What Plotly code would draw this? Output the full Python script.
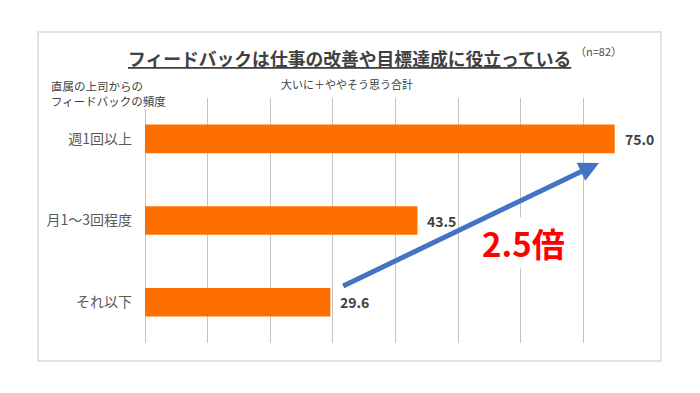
import plotly.graph_objects as go

categories = ["週1回以上", "月1～3回程度", "それ以下"]
values = [75.0, 43.5, 29.6]
x_ticks = [0, 10, 20, 30, 40, 50, 60, 70, 80]

FONT = "Noto Sans CJK JP"
OFF = 8  # page body margin offset
W, H = 700 - OFF, 393 - OFF
ML, MR, MT, MB = 145 - OFF, 54, 98 - OFF, 50
PW, PH = W - ML - MR, H - MT - MB


def px(x):
    return (x - OFF - ML) / PW


def py(y):
    return (H - MB - (y - OFF)) / PH


fig = go.Figure()
fig.add_trace(go.Bar(
    y=categories, x=values, orientation="h",
    marker=dict(color="#FF6F00", line=dict(width=0)),
    hoverinfo="skip",
))

annotations = []
for c, v in zip(categories, values):
    annotations.append(dict(
        x=v, y=c, xref="x", yref="y", text=f"<b>{v:.1f}</b>", showarrow=False,
        xanchor="left", yanchor="middle", xshift=8,
        font=dict(family=FONT, size=14, color="#404040"),
    ))

# title
annotations.append(dict(
    x=px(349), y=py(58), xref="paper", yref="paper",
    text="<b><u>フィードバックは仕事の改善や目標達成に役立っている</u></b>",
    showarrow=False, xanchor="center", yanchor="middle",
    font=dict(family=FONT, size=17.8, color="#404040"),
))
annotations.append(dict(
    x=px(573), y=py(51), xref="paper", yref="paper", text="（n=82）",
    showarrow=False, xanchor="left", yanchor="middle",
    font=dict(family=FONT, size=11, color="#505050"),
))
annotations.append(dict(
    x=px(347), y=py(84), xref="paper", yref="paper", text="大いに＋ややそう思う合計",
    showarrow=False, xanchor="center", yanchor="middle",
    font=dict(family=FONT, size=11, color="#404040"),
))
annotations.append(dict(
    x=px(50), y=py(93), xref="paper", yref="paper",
    text="直属の上司からの<br>フィードバックの頻度",
    showarrow=False, xanchor="left", yanchor="middle", align="left",
    bgcolor="white", borderpad=0,
    font=dict(family=FONT, size=11.5, color="#404040"),
))
annotations.append(dict(
    x=px(523), y=py(243), xref="paper", yref="paper", text="<b>2.5倍</b>",
    showarrow=False, xanchor="center", yanchor="middle", bgcolor="white",
    font=dict(family=FONT, size=33, color="#FF0000"),
))
# arrow (drawn above the text box)
annotations.append(dict(
    x=px(599), y=py(163), xref="paper", yref="paper", text="",
    showarrow=True, arrowhead=2, arrowsize=0.8, arrowwidth=5,
    arrowcolor="#4472C4", ax=341.7 - 599, ay=286.7 - 163, standoff=0,
))

fig.update_layout(
    width=W, height=H,
    margin=dict(l=ML, r=MR, t=MT, b=MB),
    paper_bgcolor="white", plot_bgcolor="white",
    showlegend=False,
    bargap=0.65,
    font=dict(family=FONT),
    xaxis=dict(
        range=[0, 80], tickvals=x_ticks, showticklabels=False,
        showgrid=True, gridcolor="#C4C4C4", gridwidth=1.3,
        zeroline=True, zerolinecolor="#C4C4C4", zerolinewidth=1.3,
        showline=False, fixedrange=True,
    ),
    yaxis=dict(
        categoryorder="array", categoryarray=categories, autorange="reversed",
        showgrid=False, zeroline=False, showline=False, ticks="",
        ticklabelstandoff=12,
        tickfont=dict(family=FONT, size=14, color="#595959"),
    ),
    annotations=annotations,
    shapes=[dict(
        type="rect", xref="paper", yref="paper",
        x0=px(38), x1=px(661), y0=py(361), y1=py(32),
        line=dict(color="#D9D9D9", width=1.5), layer="below",
    )],
)

fig.write_html("out.html")
